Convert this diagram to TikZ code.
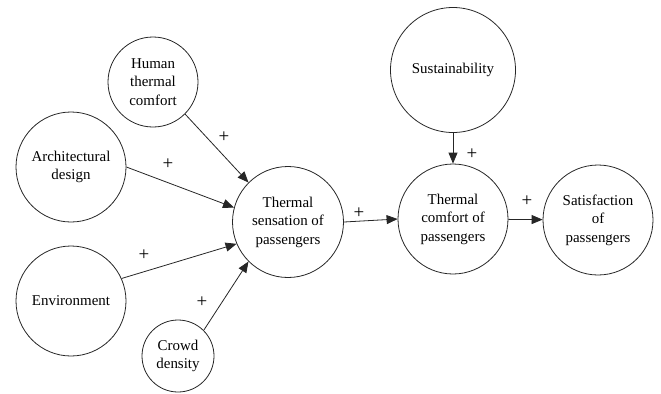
\documentclass[tikz,border=0pt]{standalone}
\usepackage{fontspec}
\setmainfont{Liberation Serif}
\usetikzlibrary{arrows.meta}
\begin{document}
\begin{tikzpicture}[x=1bp,y=-1bp,
  factor/.style={circle,draw=black!85,line width=0.8bp,inner sep=0pt,align=center,
    font=\fontsize{15}{18.5}\selectfont},
  link/.style={draw=black!85,line width=0.8bp,-{Triangle[length=11bp,width=9bp]}},
  sign/.style={font=\fontsize{19}{20}\selectfont,inner sep=0pt}]
\useasboundingbox (0,0) rectangle (661,393);
\node[factor,minimum size=90bp] (htc) at (153,82) {Human\\thermal\\comfort};
\node[factor,minimum size=110bp] (arch) at (71,167) {Architectural\\design};
\node[factor,minimum size=110bp] (env) at (71,301) {Environment};
\node[factor,minimum size=72bp] (crowd) at (178,356) {Crowd\\density};
\node[factor,minimum size=111bp] (ts) at (288,222) {Thermal\\sensation of\\passengers};
\node[factor,minimum size=125bp] (sus) at (453,70) {Sustainability};
\node[factor,minimum size=110bp] (tc) at (453,219) {Thermal\\comfort of\\passengers};
\node[factor,minimum size=110bp] (sat) at (598,220) {Satisfaction\\of\\passengers};
\draw[link] (htc.315) -- (ts.135);
\draw[link] (arch.0) -- (ts.165);
\draw[link] (env.24) -- (ts.203);
\draw[link] (crowd.45) -- (ts.225);
\draw[link] (ts.east) -- (tc.west);
\draw[link] (sus) -- (tc);
\draw[link] (tc) -- (sat);
\node[sign] (p1) at (224,137) {+};
\node[sign] (p2) at (168,164) {+};
\node[sign] (p3) at (144,255) {+};
\node[sign] (p4) at (202,302) {+};
\node[sign] (p5) at (359,213) {+};
\node[sign] (p6) at (472,154) {+};
\node[sign] (p7) at (527,201) {+};
\end{tikzpicture}
\end{document}
